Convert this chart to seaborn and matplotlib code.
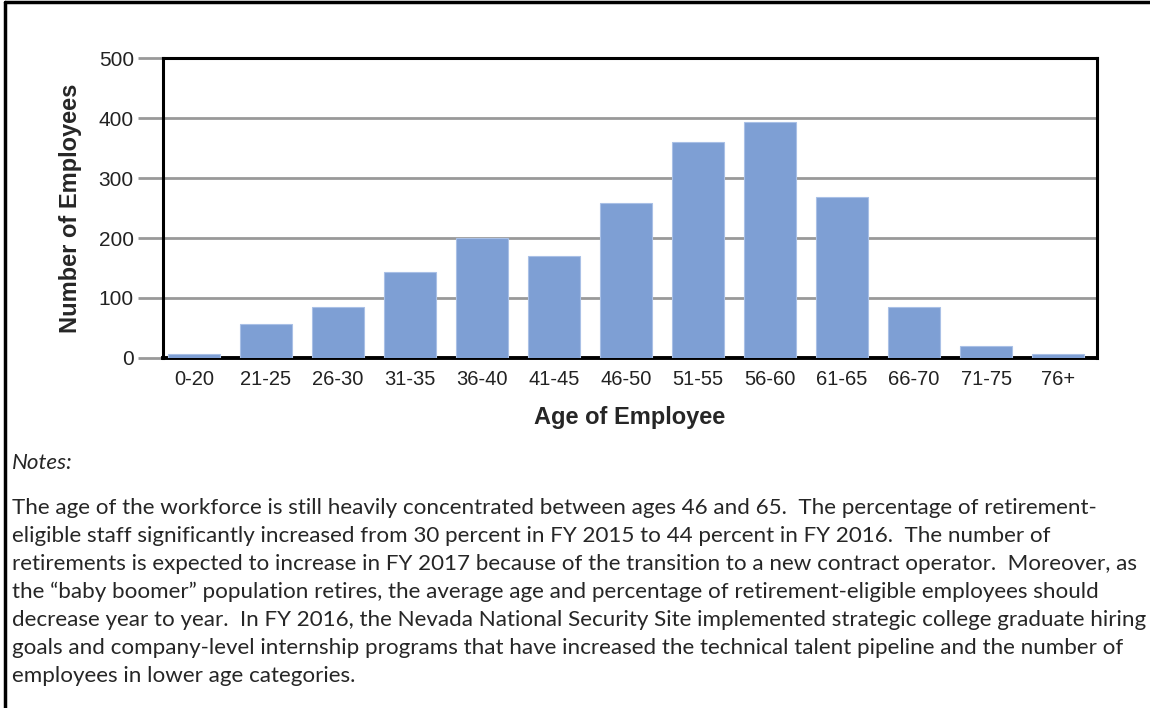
import matplotlib.pyplot as plt
import seaborn as sns
import pandas as pd
from matplotlib.lines import Line2D

age_groups = ["0-20", "21-25", "26-30", "31-35", "36-40", "41-45", "46-50",
              "51-55", "56-60", "61-65", "66-70", "71-75", "76+"]
employees = [6, 57, 85, 143, 200, 170, 258, 360, 394, 269, 85, 20, 6]
y_ticks = [0, 100, 200, 300, 400, 500]

notes_title = "Notes:"
notes_lines = [
    "The age of the workforce is still heavily concentrated between ages 46 and 65.  The percentage of retirement-",
    "eligible staff significantly increased from 30 percent in FY 2015 to 44 percent in FY 2016.  The number of",
    "retirements is expected to increase in FY 2017 because of the transition to a new contract operator.  Moreover, as",
    "the \u201cbaby boomer\u201d population retires, the average age and percentage of retirement-eligible employees should",
    "decrease year to year.  In FY 2016, the Nevada National Security Site implemented strategic college graduate hiring",
    "goals and company-level internship programs that have increased the technical talent pipeline and the number of",
    "employees in lower age categories.",
]

df = pd.DataFrame({"age": age_groups, "count": employees})

sns.set_style("white")
plt.rcParams["font.family"] = ["Liberation Sans", "DejaVu Sans"]

fig = plt.figure(figsize=(11.5, 7.08), dpi=100)
ax = fig.add_axes([0.1417, 0.4944, 0.8123, 0.4236])

sns.barplot(data=df, x="age", y="count", color="#7e9fd4", width=0.72,
            saturation=1, edgecolor="#a9c0e6", linewidth=0.8, ax=ax, zorder=3)

ax.set_ylim(0, 500)
ax.set_yticks(y_ticks)
ax.set_xlim(-0.43, len(age_groups) - 0.46)
for v in y_ticks[1:-1]:
    ax.axhline(v, color="#999999", linewidth=2, zorder=1)

ax.tick_params(axis="y", which="major", direction="out", length=18, width=2,
               color="#999999", labelsize=15, pad=3, left=True)
ax.tick_params(axis="x", length=0, labelsize=14.5, pad=9)
for lab in ax.get_xticklabels() + ax.get_yticklabels():
    lab.set_color("#222222")

for s in ax.spines.values():
    s.set_color("black")
    s.set_linewidth(2.2)
    s.set_visible(True)
ax.spines["bottom"].set_linewidth(2.8)

ax.set_xlabel("Age of Employee", fontsize=17, fontweight="bold", labelpad=12)
ax.set_ylabel("Number of Employees", fontsize=17, fontweight="bold", labelpad=12)

# outer frame (top and left edges)
fig.add_artist(Line2D([0.0045, 0.0045], [0, 0.9965], color="black", linewidth=2.5,
                      transform=fig.transFigure))
fig.add_artist(Line2D([0.0045, 1], [0.9965, 0.9965], color="black", linewidth=2.5,
                      transform=fig.transFigure))

notes_font = ["Lato", "DejaVu Sans"]
fig.text(12 / 1150, 1 - 463 / 708, notes_title, fontsize=16.1, style="italic",
         family=notes_font, va="center", ha="left")
for i, line in enumerate(notes_lines):
    fig.text(12 / 1150, 1 - (508 + 28 * i) / 708, line, fontsize=16.1,
             family=notes_font, va="center", ha="left")

fig.savefig("out.png", dpi=100)
